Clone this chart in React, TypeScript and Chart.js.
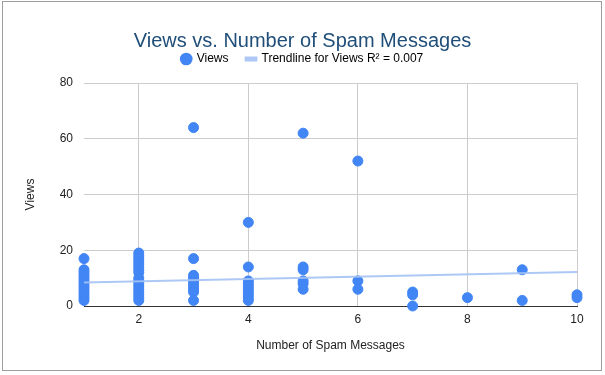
import React, { useEffect, useRef } from "react";
import { Chart, registerables } from "chart.js";

Chart.register(...registerables);

const chartTitle = "Views vs. Number of Spam Messages";
const xAxisTitle = "Number of Spam Messages";
const yAxisTitle = "Views";
const seriesLabel = "Views";
const trendLabel = "Trendline for Views R\u00b2 = 0.007";

const spamCounts = [1, 2, 3, 4, 5, 6, 7, 8, 9, 10];
const views1 = [17, 13, 12, 11, 10, 9, 8, 7, 6, 5, 4, 3, 2];
const views2 = [19, 18, 17, 16, 15, 14, 13, 12, 10, 9, 8, 7, 6, 5, 4, 3, 2];
const views3 = [64, 17, 11, 10, 9, 8, 7, 6, 5, 2];
const views4 = [30, 14, 9, 8, 7, 6, 5, 4, 3, 2];
const views5 = [62, 14, 13, 9, 8, 6];
const views6 = [52, 9, 6];
const views7 = [5, 4, 0];
const views8 = [3];
const views9 = [13, 2];
const views10 = [4, 3];
const viewsBySpam = [views1, views2, views3, views4, views5, views6, views7, views8, views9, views10];

const trendX = [1, 10];
const trendY = [8.4, 12.2];

const xTicks = [2, 4, 6, 8, 10];
const yTicks = [0, 20, 40, 60, 80];

const pointColor = "#4285f4";
const trendColor = "rgba(164,194,244,0.9)";

export default function App() {
  const ref = useRef<HTMLCanvasElement | null>(null);
  useEffect(() => {
    if (!ref.current) return;
    const points: { x: number; y: number }[] = [];
    spamCounts.forEach((c, i) => viewsBySpam[i].forEach((v) => points.push({ x: c, y: v })));
    const trend = trendX.map((x, i) => ({ x, y: trendY[i] }));
    const font = "'Liberation Sans', Arial, sans-serif";
    const legendSpacer = {
      id: "legendSpacer",
      afterInit(ch: any) {
        const lg = ch.legend;
        if (!lg) return;
        const orig = lg.fit.bind(lg);
        lg.fit = () => {
          orig();
          lg.height = 48;
        };
      },
    };
    const chart = new Chart(ref.current, {
      type: "scatter",
      data: {
        datasets: [
          {
            label: seriesLabel,
            data: points,
            backgroundColor: pointColor,
            borderColor: pointColor,
            pointRadius: 5,
            pointHoverRadius: 5,
            pointStyle: "circle",
            clip: false,
            order: 2,
          } as any,
          {
            type: "line",
            label: trendLabel,
            data: trend,
            borderColor: trendColor,
            backgroundColor: trendColor,
            borderWidth: 2,
            pointRadius: 0,
            showLine: true,
            fill: false,
            order: 1,
          } as any,
        ],
      },
      plugins: [legendSpacer],
      options: {
        responsive: false,
        animation: false,
        maintainAspectRatio: false,
        layout: { padding: 0 },
        plugins: {
          tooltip: { enabled: false },
          title: {
            display: true,
            text: chartTitle,
            color: "#1f4e79",
            font: { family: font, size: 20, weight: "normal" },
            padding: { top: 29, bottom: -18 },
          },
          legend: {
            display: true,
            labels: {
              font: { family: font, size: 12 },
              color: "#222222",
              usePointStyle: true,
              boxWidth: 9,
              boxHeight: 9,
              padding: 18,
              generateLabels: (ch: any) =>
                ch.data.datasets.map((ds: any, i: number) => ({
                  text: ds.label,
                  fillStyle: i === 0 ? pointColor : trendColor,
                  strokeStyle: i === 0 ? pointColor : trendColor,
                  lineWidth: i === 0 ? 0 : 5,
                  pointStyle: i === 0 ? "circle" : "line",
                  datasetIndex: i,
                  hidden: false,
                })),
            },
          },
        },
        scales: {
          x: {
            type: "linear",
            min: 1,
            max: 10,
            afterBuildTicks: (s: any) => {
              s.ticks = xTicks.map((v) => ({ value: v }));
            },
            afterFit: (s: any) => {
              s.height = 69;
            },
            ticks: {
              font: { family: font, size: 12 },
              color: "#222222",
              padding: 6,
            },
            grid: { color: "#cccccc", drawTicks: false },
            border: { display: true, color: "#333333", width: 1 },
            title: {
              display: true,
              text: xAxisTitle,
              font: { family: font, size: 12 },
              color: "#222222",
              padding: { top: 4, bottom: 22 },
            },
          },
          y: {
            type: "linear",
            min: 0,
            max: 80,
            afterBuildTicks: (s: any) => {
              s.ticks = yTicks.map((v) => ({ value: v }));
            },
            afterFit: (s: any) => {
              s.width = 84;
            },
            ticks: {
              font: { family: font, size: 12 },
              color: "#222222",
              padding: 11,
            },
            grid: { color: "#cccccc", drawTicks: false },
            border: { display: false },
            title: {
              display: true,
              text: yAxisTitle,
              font: { family: font, size: 12 },
              color: "#222222",
              padding: { top: 23 },
            },
          },
          yRight: {
            type: "linear",
            position: "right",
            min: 0,
            max: 80,
            display: true,
            ticks: { display: false },
            grid: { display: false, drawTicks: false },
            border: { display: false },
            afterFit: (s: any) => {
              s.width = 28;
            },
          },
        },
      },
    });
    return () => chart.destroy();
  }, []);
  return (
    <div style={{ position: "absolute", left: 0, top: 0, width: 605, height: 375, background: "#ffffff" }}>
      <div
        style={{
          position: "absolute",
          left: 2,
          top: 1,
          width: 600,
          height: 370,
          border: "1px solid #9e9e9e",
          boxSizing: "border-box",
          pointerEvents: "none",
        }}
      />
      <canvas ref={ref} width={605} height={375} style={{ position: "absolute", left: 0, top: 0 }} />
    </div>
  );
}
